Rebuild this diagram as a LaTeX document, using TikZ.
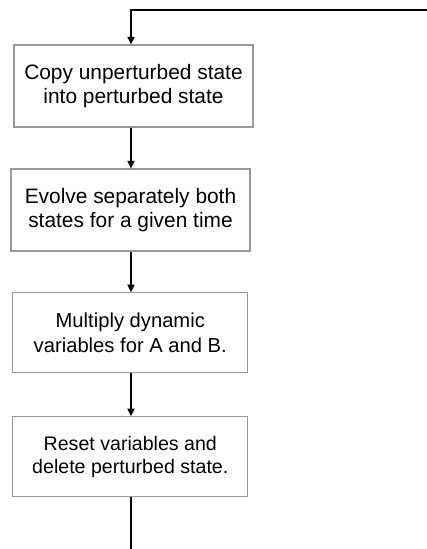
\documentclass[tikz,border=0pt]{standalone}
\usepackage{fontspec}
\setmainfont{Liberation Sans}
\usetikzlibrary{arrows.meta}
\begin{document}
\begin{tikzpicture}[x=1pt,y=-1pt,
  box/.style={draw=black!40, line width=1.1pt, rectangle, align=center, inner sep=0pt},
  arr/.style={draw=black, line width=1.5pt, -{Triangle[length=7.5pt,width=7pt]}},
  ln/.style={draw=black, line width=1.5pt}]
\useasboundingbox (0,0) rectangle (427,549);
\coordinate (tr) at (427,10);
\coordinate (tl) at (131,10);
\coordinate (bot) at (131,549);
\node[box, minimum width=239pt, minimum height=82pt, font=\fontsize{20.9}{24.5}\selectfont] (b1) at (133.5,86) {Copy unperturbed state\\into perturbed state};
\node[box, minimum width=239pt, minimum height=82pt, font=\fontsize{20.9}{24.5}\selectfont] (b2) at (130.5,210) {Evolve separately both\\states for a given time};
\node[box, minimum width=235pt, minimum height=80pt, font=\fontsize{20.2}{25}\selectfont] (b3) at (130.3,332.7) {Multiply dynamic\\variables for A and B.};
\node[box, minimum width=235pt, minimum height=80pt, font=\fontsize{19.6}{23}\selectfont] (b4) at (130.3,456.7) {Reset variables and\\delete perturbed state.};
\draw[arr] (tr) -- (tl) -- (b1.north -| tl);
\draw[arr] (b1.south -| tl) -- (b2.north -| tl);
\draw[arr] (b2.south -| tl) -- (b3.north -| tl);
\draw[arr] (b3.south -| tl) -- (b4.north -| tl);
\draw[ln] (b4.south -| tl) -- (bot);
\end{tikzpicture}
\end{document}
